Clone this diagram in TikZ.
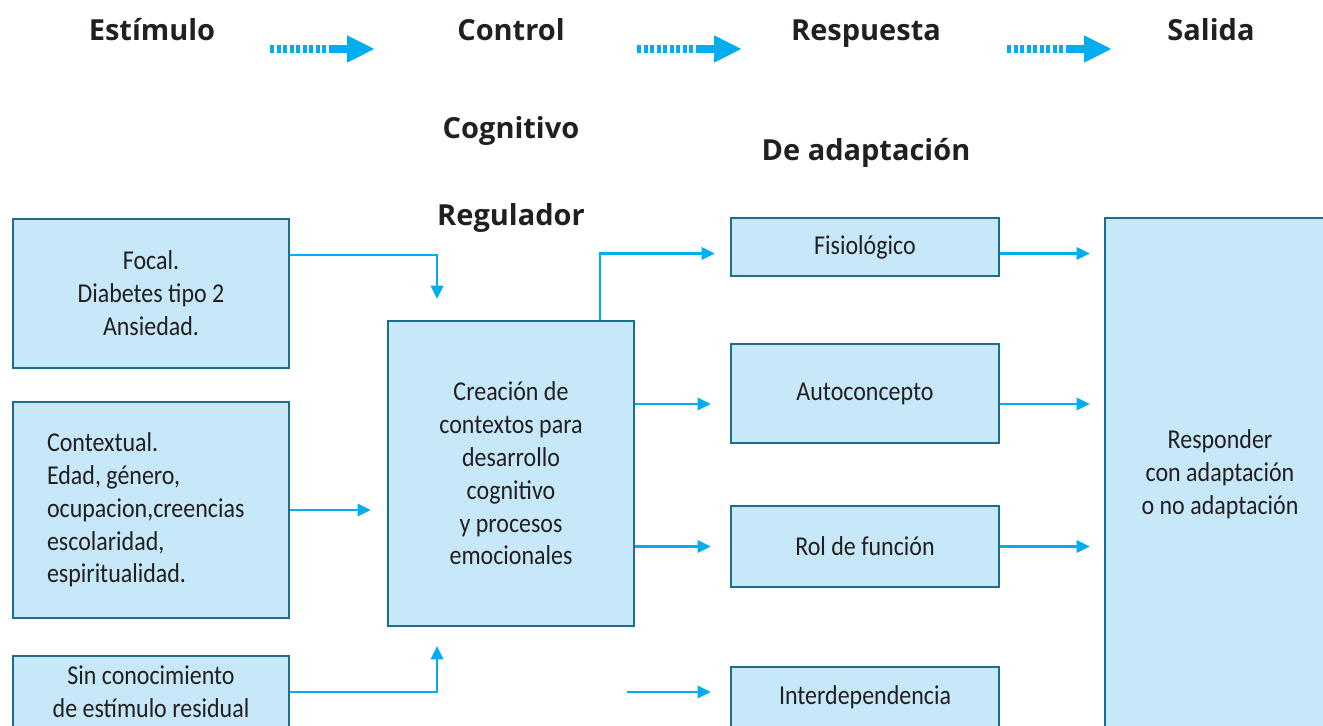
\documentclass[tikz,border=0pt]{standalone}
\usepackage{fontspec}
\setmainfont{Carlito}[FakeStretch=0.88]
\newfontfamily\headfont{Open Sans}
\usetikzlibrary{arrows.meta}
\definecolor{boxfill}{HTML}{C6E8F8}
\definecolor{boxline}{HTML}{1E6D8C}
\definecolor{arrowblue}{HTML}{00AEEF}
\definecolor{inktext}{HTML}{231F20}
\tikzset{
	caja/.style={draw=boxline, line width=1.3pt, fill=boxfill, text=inktext, align=center, inner sep=0pt, font=\fontsize{15.5}{18.7}\selectfont},
	titulo/.style={text=inktext, text height=12pt, text depth=0pt, font=\headfont\bfseries\fontsize{16.5}{20}\selectfont},
	conn/.style={draw=arrowblue, line width=1.4pt, -{Triangle[length=7.5pt,width=7pt]}},
	trazo/.style={draw=arrowblue, line width=4.8pt, dash pattern=on 2.3pt off 1.4pt},
	punta/.style={draw=arrowblue, line width=4.8pt, -{Triangle[length=15.9pt,width=14.2pt]}}
}
\begin{document}
\begin{tikzpicture}[x=0.02cm, y=-0.02cm]
		\useasboundingbox (0,0) rectangle (1323,726);

		\node[titulo] (estimulo) at (152,30) {Estímulo};
		\node[titulo] (control) at (511,30) {Control};
		\node[titulo] (respuesta) at (866,30) {Respuesta};
		\node[titulo] (salida) at (1211,30) {Salida};
		\node[titulo] (cognitivo) at (511,128) {Cognitivo};
		\node[titulo] (regulador) at (511,215) {Regulador};
		\node[titulo] (adaptacion) at (866,150) {De adaptación};

		\foreach \x [count=\i] in {270,637,1007}{
			\coordinate (ini\i) at (\x,49);
			\coordinate (med\i) at (\x+63,49);
			\coordinate (fin\i) at (\x+105,49);
			\draw[trazo] (ini\i) -- (med\i);
			\draw[punta] (med\i) -- (fin\i);
		}

		\node[caja, minimum width=5.52cm, minimum height=2.98cm] (focal) at (151,293.5) {Focal.\\Diabetes tipo 2\\Ansiedad.};
		\node[caja, align=flush left, text width=4.16cm, minimum width=5.52cm, minimum height=4.32cm] (contextual) at (151,510) {Contextual.\\Edad, género,\\ocupacion,creencias\\escolaridad,\\espiritualidad.};
		\node[caja, minimum width=5.52cm, minimum height=1.44cm] (residual) at (151,692) {Sin conocimiento\\de estímulo residual};

		\node[caja, minimum width=4.92cm, minimum height=6.1cm] (creacion) at (511,473.5) {Creación de\\contextos para\\desarrollo\\cognitivo\\y procesos\\emocionales};

		\node[caja, minimum width=5.36cm, minimum height=1.16cm] (fisio) at (865,247) {Fisiológico};
		\node[caja, minimum width=5.36cm, minimum height=1.98cm] (auto) at (865,393.5) {Autoconcepto};
		\node[caja, minimum width=5.36cm, minimum height=1.62cm] (rol) at (865,546.5) {Rol de función};
		\node[caja, minimum width=5.36cm, minimum height=1.2cm] (inter) at (865,697) {Interdependencia};

		\node[caja, minimum width=4.6cm, minimum height=10.24cm] (responder) at (1220,474) {Responder\\con adaptación\\o no adaptación};

		\draw[conn, shorten >=0.42cm] ([yshift=0.77cm]focal.east) -| ([xshift=-1.48cm]creacion.north);
		\draw[conn, shorten >=0.32cm] (contextual.east) -- (contextual.east -| creacion.west);
		\draw[conn, shorten >=0.38cm] (residual.east) -| ([xshift=-1.48cm]creacion.south);

		\coordinate (fisioin) at ([yshift=-0.13cm]fisio.west);
		\coordinate (autoin) at ([yshift=-0.21cm]auto.west);
		\coordinate (interin) at ([yshift=0.1cm]inter.west);
		\draw[conn, shorten >=0.3cm] ([xshift=1.78cm]creacion.north) |- (fisioin);
		\draw[conn, shorten >=0.38cm] (creacion.east |- autoin) -- (autoin);
		\draw[conn, shorten >=0.38cm] (creacion.east |- rol.west) -- (rol.west);
		\draw[conn, shorten >=0.38cm] ([xshift=-2.06cm]interin) -- (interin);

		\foreach \c in {fisioin, autoin, rol.west}
			\draw[conn, shorten >=0.28cm] (fisio.east |- \c) -- (responder.west |- \c);
	\end{tikzpicture}
\end{document}
